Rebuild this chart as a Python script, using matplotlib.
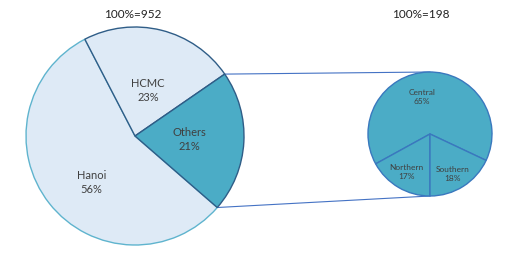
import numpy as np
import matplotlib
matplotlib.use('Agg')
import matplotlib.pyplot as plt

plt.rcParams['font.family'] = ['Lato', 'DejaVu Sans']

# main pie
main_labels = ['Hanoi', 'HCMC', 'Others']
main_share = [56, 23, 21]
main_total = 952

# breakdown of "Others"
sub_labels = ['Central', 'Northern', 'Southern']
sub_share = [65, 17, 18]
sub_total = 198

light = '#DEEAF6'
teal = '#4BACC6'
dark_edge = '#2F5D87'
blue_edge = '#3A78BE'
text_col = '#404040'

W, H = 515, 260
fig = plt.figure(figsize=(W / 100, H / 100), dpi=100)
ax = fig.add_axes([0, 0, 1, 1])

c1 = (135, 124)
r1 = 109
c2 = (430, 126)
r2 = 62

# left pie, clockwise from -41 deg so "Others" faces the breakdown
start1 = -41
wedges1, _ = ax.pie(main_share, center=c1, radius=r1, startangle=start1,
                    counterclock=False, colors=[light, light, teal],
                    wedgeprops=dict(linewidth=1.0), frame=True)
wedges1[0].set_edgecolor('#5FB4CE')
wedges1[1].set_edgecolor(dark_edge)
wedges1[2].set_edgecolor(dark_edge)

label_pos1 = [(-0.40, -0.43), (0.12, 0.42), (0.50, -0.03)]
for name, v, (dx, dy) in zip(main_labels, main_share, label_pos1):
    ax.text(c1[0] + dx * r1, c1[1] + dy * r1, f'{name}\n{v}%', ha='center',
            va='center', fontsize=8, color=text_col, linespacing=1.35)

# right pie
start2 = 270 - 360 * (sub_share[0] + sub_share[1]) / 100
wedges2, _ = ax.pie(sub_share, center=c2, radius=r2, startangle=start2,
                    colors=[teal] * 3,
                    wedgeprops=dict(linewidth=1.0, edgecolor=blue_edge),
                    frame=True)

label_pos2 = [(-0.13, 0.60), (-0.38, -0.62), (0.36, -0.64)]
for name, v, (dx, dy) in zip(sub_labels, sub_share, label_pos2):
    ax.text(c2[0] + dx * r2, c2[1] + dy * r2, f'{name}\n{v}%', ha='center',
            va='center', fontsize=6, color=text_col, linespacing=1.35)

# connector lines from the "Others" wedge to the top/bottom of the breakdown pie
a_top = np.deg2rad(start1 + 360 * main_share[2] / 100)
a_bot = np.deg2rad(start1)
p_top = (c1[0] + r1 * np.cos(a_top), c1[1] + r1 * np.sin(a_top))
p_bot = (c1[0] + r1 * np.cos(a_bot), c1[1] + r1 * np.sin(a_bot))
ax.plot([p_top[0], c2[0]], [p_top[1], c2[1] + r2], color='#4472C4', lw=0.8, zorder=0)
ax.plot([p_bot[0], c2[0]], [p_bot[1], c2[1] - r2], color='#4472C4', lw=0.8, zorder=0)

ax.text(c1[0] - 2, H - 15, f'100%={main_total}', ha='center', va='center',
        fontsize=8.5, color='#222222')
ax.text(421, H - 15, f'100%={sub_total}', ha='center', va='center',
        fontsize=8.5, color='#222222')

ax.set_xlim(0, W)
ax.set_ylim(0, H)
ax.set_aspect('equal')
ax.axis('off')

fig.savefig('out.png', dpi=100)
